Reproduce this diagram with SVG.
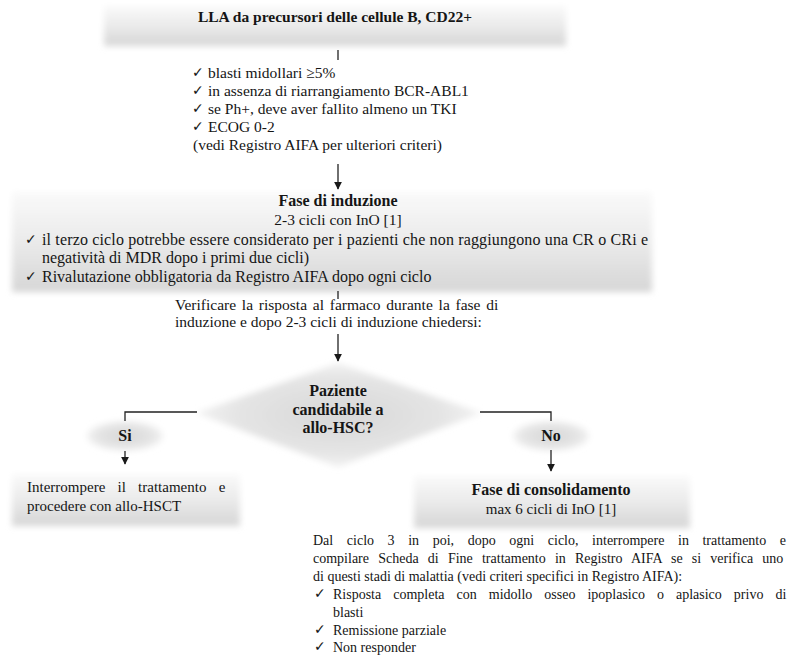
<svg xmlns="http://www.w3.org/2000/svg" width="790" height="665" viewBox="0 0 790 665">
<style>
text{font-family:"Liberation Serif","Times New Roman",serif;fill:#151515}
.b{font-weight:bold}
.ck{font-family:"DejaVu Sans","Liberation Serif",sans-serif;font-size:14px}
.c{text-anchor:middle}
.ln{stroke:#222;stroke-width:1.3;fill:none}
</style>
<defs>
<linearGradient id="gv" x1="0" y1="0" x2="0" y2="1">
<stop offset="0" stop-color="#fafafa"/><stop offset="0.45" stop-color="#ececec"/><stop offset="1" stop-color="#d6d6d6"/>
</linearGradient>
<radialGradient id="gr" cx="0.5" cy="0.5" r="0.5">
<stop offset="0" stop-color="#d8d8d8"/><stop offset="0.7" stop-color="#e4e4e4"/><stop offset="1" stop-color="#f2f2f2"/>
</radialGradient>
<filter id="soft" x="-10%" y="-30%" width="120%" height="160%"><feGaussianBlur stdDeviation="3"/></filter>
<marker id="ah" viewBox="0 0 10 10" refX="9" refY="5" markerWidth="8" markerHeight="8" markerUnits="userSpaceOnUse" orient="auto">
<path d="M0,0 L10,5 L0,10 Z" fill="#1a1a1a"/>
</marker>
</defs>

<g id="title">
<rect x="104" y="6" width="462" height="40" fill="url(#gv)" filter="url(#soft)"/>
<text class="b c" x="335" y="22" font-size="15.5">LLA da precursori delle cellule B, CD22+</text>
</g>

<g id="criteria" font-size="15.5">
<text class="ck" x="192" y="77">✓</text><text x="208" y="78">blasti midollari ≥5%</text>
<text class="ck" x="192" y="95">✓</text><text x="208" y="96">in assenza di riarrangiamento BCR-ABL1</text>
<text class="ck" x="192" y="113">✓</text><text x="208" y="114">se Ph+, deve aver fallito almeno un TKI</text>
<text class="ck" x="192" y="131">✓</text><text x="208" y="132">ECOG 0-2</text>
<text x="193" y="150">(vedi Registro AIFA per ulteriori criteri)</text>
</g>

<g id="induzione">
<rect x="12" y="192" width="640" height="100" fill="url(#gv)" filter="url(#soft)"/>
<text class="b c" x="338" y="206" font-size="16">Fase di induzione</text>
<text class="c" x="338" y="225" font-size="15.5">2-3 cicli con InO [1]</text>
<text class="ck" x="25" y="244">✓</text>
<text x="42" y="245" font-size="16" textLength="606" lengthAdjust="spacing">il terzo ciclo potrebbe essere considerato per i pazienti che non raggiungono una CR o CRi e</text>
<text x="42" y="263" font-size="16">negatività di MDR dopo i primi due cicli)</text>
<text class="ck" x="25" y="281">✓</text>
<text x="42" y="282" font-size="16">Rivalutazione obbligatoria da Registro AIFA dopo ogni ciclo</text>
</g>

<g id="verifica" font-size="15.5">
<text x="175" y="310" word-spacing="1.9">Verificare la risposta al farmaco durante la fase di</text>
<text x="175" y="327">induzione e dopo 2-3 cicli di induzione chiedersi:</text>
</g>

<g id="decisione">
<polygon points="338,363 482,413 338,467 196,413" fill="url(#gr)" filter="url(#soft)"/>
<text class="b c" x="338" y="396" font-size="16">Paziente</text>
<text class="b c" x="338" y="415" font-size="16">candidabile a</text>
<text class="b c" x="338" y="433" font-size="16">allo-HSC?</text>
</g>

<g id="si">
<ellipse cx="125" cy="436" rx="38" ry="15" fill="url(#gr)" filter="url(#soft)"/>
<text class="b c" x="125" y="441" font-size="16">Si</text>
</g>

<g id="no">
<ellipse cx="551" cy="436" rx="38" ry="15" fill="url(#gr)" filter="url(#soft)"/>
<text class="b c" x="551" y="441" font-size="16">No</text>
</g>

<g id="allo">
<rect x="12" y="474" width="228" height="52" fill="url(#gv)" filter="url(#soft)"/>
<text x="27" y="492" font-size="15" word-spacing="8.5">Interrompere il trattamento e</text>
<text x="27" y="511" font-size="15">procedere con allo-HSCT</text>
</g>

<g id="consolidamento">
<rect x="414" y="476" width="276" height="52" fill="url(#gv)" filter="url(#soft)"/>
<text class="b c" x="551" y="495" font-size="16">Fase di consolidamento</text>
<text class="c" x="551" y="514" font-size="15">max 6 cicli di InO [1]</text>
</g>

<g id="fine" font-size="14">
<text x="313" y="545" word-spacing="10.1">Dal ciclo 3 in poi, dopo ogni ciclo, interrompere in trattamento e</text>
<text x="313" y="563" word-spacing="5.7">compilare Scheda di Fine trattamento in Registro AIFA se si verifica uno</text>
<text x="313" y="581">di questi stadi di malattia (vedi criteri specifici in Registro AIFA):</text>
<text class="ck" x="314" y="598">✓</text><text x="333" y="599" word-spacing="8.5">Risposta completa con midollo osseo ipoplasico o aplasico privo di</text>
<text x="333" y="617">blasti</text>
<text class="ck" x="314" y="634">✓</text><text x="333" y="635">Remissione parziale</text>
<text class="ck" x="314" y="651">✓</text><text x="333" y="652">Non responder</text>
</g>

<g id="connectors">
<line class="ln" x1="338" y1="50" x2="338" y2="60"/>
<line class="ln" x1="338" y1="164" x2="338" y2="189" marker-end="url(#ah)"/>
<line class="ln" x1="338" y1="291" x2="338" y2="299"/>
<line class="ln" x1="338" y1="334" x2="338" y2="361" marker-end="url(#ah)"/>
<path class="ln" d="M197,412 H125 V421"/>
<path class="ln" d="M480,412 H551 V421"/>
<line class="ln" x1="125" y1="451" x2="125" y2="464" marker-end="url(#ah)"/>
<line class="ln" x1="551" y1="450" x2="551" y2="471" marker-end="url(#ah)"/>
</g>
</svg>
